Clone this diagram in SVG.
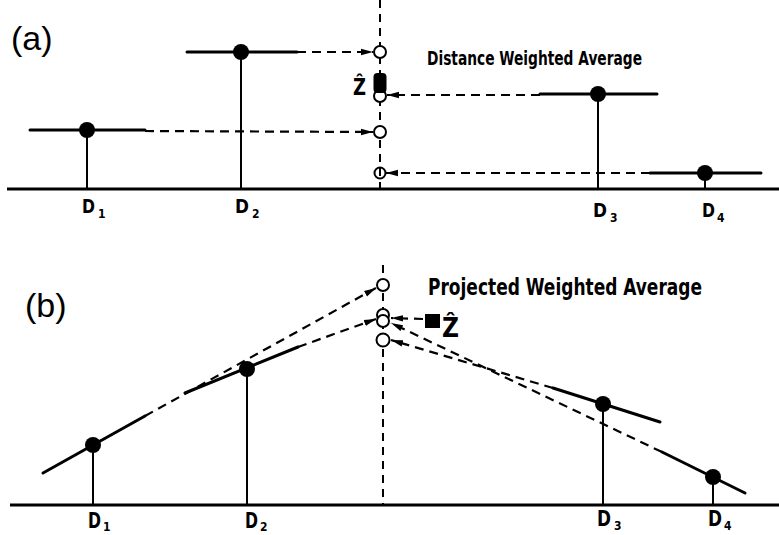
<svg xmlns="http://www.w3.org/2000/svg" width="779" height="535" viewBox="0 0 779 535">
<defs>
<marker id="ah" markerUnits="userSpaceOnUse" markerWidth="14" markerHeight="8" refX="12" refY="4" orient="auto">
<path d="M0,0.8 L12,4 L0,7.2 z" fill="#000"/>
</marker>
<style>
.base{stroke:#000;stroke-width:3;fill:none}
.seg{stroke:#000;stroke-width:3;fill:none;stroke-linecap:round}
.stem{stroke:#000;stroke-width:2;fill:none}
.vdash{stroke:#000;stroke-width:2;stroke-dasharray:8 6;fill:none}
.dash{stroke:#000;stroke-width:2.2;stroke-dasharray:9 6;fill:none;marker-end:url(#ah)}
.pt{fill:#000}
.est{fill:#fff;stroke:#000;stroke-width:2}
.lbl{font-family:"DejaVu Sans Condensed","Liberation Sans",sans-serif;font-weight:bold;fill:#000}
.pl{font-family:"Liberation Sans","DejaVu Sans",sans-serif;fill:#000}
</style>
</defs>
<rect width="779" height="535" fill="#fff"/>

<!-- Panel (a) -->
<g id="panel-a-axes">
<text class="pl" x="11" y="50" font-size="34">(a)</text>
<line class="base" x1="7" y1="189" x2="779" y2="189"/>
<line class="vdash" x1="380" y1="0" x2="380" y2="189"/>
<text class="lbl" x="427" y="65" font-size="20" textLength="215" lengthAdjust="spacingAndGlyphs">Distance Weighted Average</text>
</g>

<g id="connectors-a">
<line class="dash" x1="297" y1="52" x2="373" y2="52"/>
<line class="dash" x1="145" y1="131" x2="373" y2="132"/>
<line class="dash" x1="540" y1="95" x2="387" y2="95"/>
<line class="dash" x1="650" y1="173" x2="386" y2="173"/>
</g>

<g id="a-D1">
<line class="seg" x1="30" y1="130" x2="145" y2="130"/>
<line class="stem" x1="87" y1="130" x2="87" y2="189"/>
<circle class="pt" cx="87" cy="130" r="8"/>
<text class="lbl" x="82" y="213" font-size="19" textLength="13" lengthAdjust="spacingAndGlyphs">D</text>
<text class="lbl" x="98" y="218" font-size="12">1</text>
</g>
<g id="a-D2">
<line class="seg" x1="187" y1="52" x2="297" y2="52"/>
<line class="stem" x1="241" y1="52" x2="241" y2="189"/>
<circle class="pt" cx="241" cy="52" r="8"/>
<text class="lbl" x="235" y="213" font-size="19" textLength="14" lengthAdjust="spacingAndGlyphs">D</text>
<text class="lbl" x="252" y="218" font-size="12">2</text>
</g>
<g id="a-D3">
<line class="seg" x1="540" y1="94" x2="657" y2="94"/>
<line class="stem" x1="598" y1="94" x2="598" y2="189"/>
<circle class="pt" cx="598" cy="94" r="8"/>
<text class="lbl" x="593" y="217" font-size="20" textLength="14" lengthAdjust="spacingAndGlyphs">D</text>
<text class="lbl" x="610" y="222" font-size="12">3</text>
</g>
<g id="a-D4">
<line class="seg" x1="650" y1="173" x2="761" y2="173"/>
<line class="stem" x1="705" y1="173" x2="705" y2="189"/>
<circle class="pt" cx="705" cy="173" r="8"/>
<text class="lbl" x="702" y="217" font-size="20" textLength="13" lengthAdjust="spacingAndGlyphs">D</text>
<text class="lbl" x="717" y="222" font-size="12">4</text>
</g>

<g id="a-estimates">
<circle class="est" cx="380" cy="52" r="6"/>
<circle class="est" cx="380" cy="96" r="6"/>
<rect x="373.5" y="73" width="13" height="20" rx="4" fill="#000"/>
<circle class="est" cx="380" cy="132" r="6"/>
<circle class="est" cx="380" cy="173" r="5.5"/>
<line class="stem" x1="380" y1="168" x2="380" y2="176"/>
</g>
<g id="a-zhat">
<text class="lbl" x="353" y="95" font-size="23" textLength="13" lengthAdjust="spacingAndGlyphs">Ẑ</text>
</g>

<!-- Panel (b) -->
<g id="panel-b-axes">
<text class="pl" x="25" y="317" font-size="34">(b)</text>
<line class="base" x1="10" y1="505" x2="779" y2="505"/>
<line class="vdash" x1="383" y1="265" x2="383" y2="505"/>
<text class="lbl" x="428" y="295" font-size="23" textLength="274" lengthAdjust="spacingAndGlyphs">Projected Weighted Average</text>
</g>

<g id="connectors-b">
<line class="dash" x1="145" y1="416" x2="376" y2="288"/>
<line class="dash" x1="298" y1="347" x2="376" y2="319"/>
<line class="dash" x1="553" y1="388" x2="391" y2="340"/>
<line class="dash" x1="662" y1="452" x2="391" y2="323"/>
<line class="dash" x1="423" y1="319" x2="391" y2="318"/>
</g>

<g id="b-D1">
<line class="seg" x1="43" y1="473" x2="145" y2="416"/>
<line class="stem" x1="93" y1="445" x2="93" y2="505"/>
<circle class="pt" cx="93" cy="445" r="8"/>
<text class="lbl" x="88" y="528" font-size="22" textLength="13" lengthAdjust="spacingAndGlyphs">D</text>
<text class="lbl" x="103" y="531" font-size="12">1</text>
</g>
<g id="b-D2">
<line class="seg" x1="185" y1="393" x2="298" y2="347"/>
<line class="stem" x1="247" y1="369" x2="247" y2="505"/>
<circle class="pt" cx="247" cy="369" r="8"/>
<text class="lbl" x="245" y="528" font-size="22" textLength="13" lengthAdjust="spacingAndGlyphs">D</text>
<text class="lbl" x="260" y="531" font-size="12">2</text>
</g>
<g id="b-D3">
<line class="seg" x1="553" y1="388" x2="660" y2="422"/>
<line class="stem" x1="603" y1="404" x2="603" y2="505"/>
<circle class="pt" cx="603" cy="404" r="8"/>
<text class="lbl" x="597" y="526" font-size="22" textLength="14" lengthAdjust="spacingAndGlyphs">D</text>
<text class="lbl" x="614" y="530" font-size="12">3</text>
</g>
<g id="b-D4">
<line class="seg" x1="662" y1="452" x2="745" y2="493"/>
<line class="stem" x1="713" y1="477" x2="713" y2="505"/>
<circle class="pt" cx="713" cy="477" r="8"/>
<text class="lbl" x="708" y="526" font-size="22" textLength="14" lengthAdjust="spacingAndGlyphs">D</text>
<text class="lbl" x="724" y="530" font-size="12">4</text>
</g>

<g id="b-estimates">
<circle class="est" cx="383" cy="285" r="6"/>
<circle class="est" cx="383" cy="315" r="6"/>
<circle class="est" cx="383" cy="321" r="6"/>
<circle class="est" cx="383" cy="340" r="6.5"/>
</g>
<g id="b-zhat">
<rect x="425" y="314" width="15" height="14" fill="#000"/>
<text class="lbl" x="442" y="337" font-size="26" textLength="17" lengthAdjust="spacingAndGlyphs">Ẑ</text>
</g>
</svg>
